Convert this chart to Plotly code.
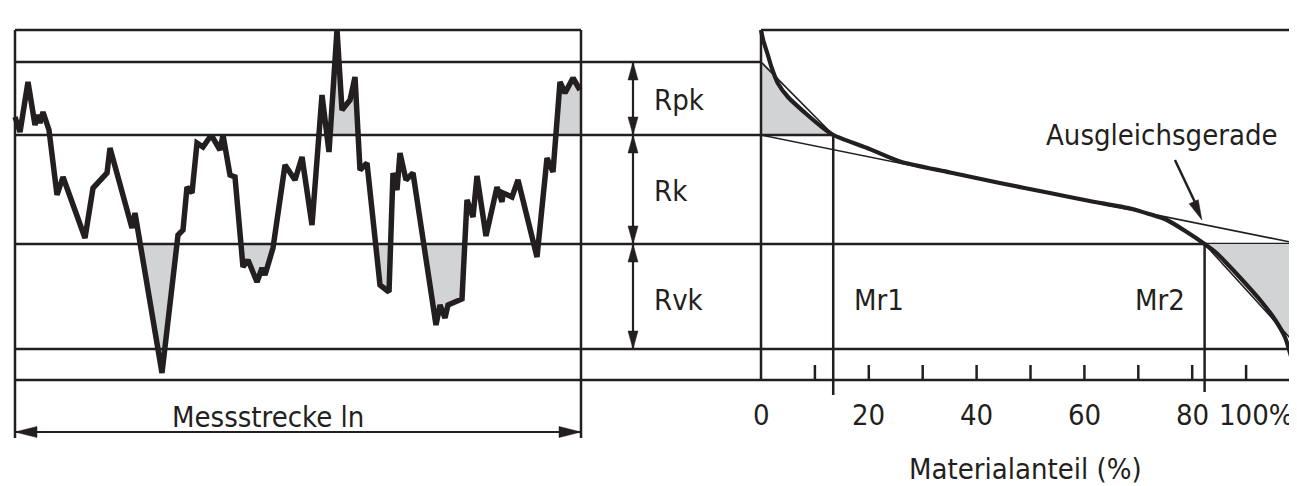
import numpy as np
import plotly.graph_objects as go

# ---------------- data ----------------
# surface profile (position along Messstrecke, height in µm)
profile_pos = [0, 5, 13, 20, 23, 25, 28, 34, 42, 48, 70, 78, 92, 95, 117, 120, 147, 163, 168, 172,
               177, 182, 188, 195, 198, 205, 208, 215, 220, 228, 233, 242, 247, 250, 258, 270, 280, 287, 297, 307,
               314, 322, 327, 335, 340, 345, 352, 365, 374, 378, 382, 385, 391, 398, 421, 425, 430, 433, 447, 452,
               458, 462, 471, 482, 487, 488, 497, 503, 522, 532, 538, 545, 550, 558, 565]
profile_h = [26.3, 24.8, 29.8, 25.5, 26.5, 25.7, 26.8, 25.0, 18.5, 20.3, 14.2, 19.2, 20.7, 23.2, 15.2, 16.7, 0.7, 14.5, 15.0, 19.3,
             18.7, 23.7, 23.3, 24.3, 24.2, 23.0, 24.5, 20.5, 20.3, 11.3, 12.0, 9.8, 11.2, 10.5, 13.2, 21.5, 20.0, 22.3, 15.5, 28.5,
             22.8, 35.0, 27.0, 28.0, 30.3, 21.0, 21.7, 9.5, 8.8, 20.7, 19.0, 22.7, 20.0, 20.7, 5.5, 7.5, 6.2, 7.5, 8.1, 18.0,
             16.3, 20.4, 14.4, 19.3, 17.8, 18.7, 18.3, 20.0, 12.3, 22.2, 20.8, 29.8, 28.7, 30.2, 29.0]
profile_length = 566

# Abbott-Firestone (material ratio) curve
curve_m = [0, 0.4, 1.1, 2.0, 3.1, 5.0, 8.2, 11.3, 13.4, 19.7, 25.8, 35.1, 44.3, 53.6, 61.0, 68.5, 72.0, 75.3, 79.0,
           82.3, 84.5, 86.7, 89.8, 92.9, 95.4, 97.2, 98.2, 98.9, 99.3]
curve_h = [35.0, 34.0, 32.8, 31.2, 29.7, 28.3, 26.7, 25.3, 24.5, 23.2, 21.85, 20.75, 19.7, 18.7, 17.9, 17.15, 16.6, 16.0, 14.8,
           13.6, 12.7, 11.5, 9.7, 7.8, 6.0, 4.3, 2.6, 1.2, 0.0]

# levels
top_h = 35.0
rpk_h = 31.8
ausgleich_m = [0, 100]
ausgleich_h = [24.5, 13.6]
rvk_h = 3.1
base_h = 0.0
rk_top = ausgleich_h[0]
rk_bot = ausgleich_h[1]

# shaded regions of the profile
peak_ranges = [(314, 346), (538, 565)]
valley_ranges = [(120, 163), (220, 270), (352, 378), (398, 452)]

tick_minor = [10, 20, 30, 40, 50, 60, 70, 80, 90]
tick_labels_v = [0, 20, 40, 60, 80]

# ---------------- derived ----------------
cm = np.array(curve_m)
ch = np.array(curve_h)
mr1 = float(np.interp(rk_top, ch[::-1], cm[::-1]))
mr2 = float(np.interp(rk_bot, ch[::-1], cm[::-1]))

# layout geometry (page pixels); the page body has an 8px margin
W, H = 1297, 486
OFF = 8
PX_X = 1.0      # px per profile unit
PX_M = 5.39     # px per percent
PX_H = 10.0     # px per µm
LEFT0 = 15      # page x of profile start
RIGHT0 = 761    # page x of 0 %
BASE_Y = 380    # page y of height 0
GAP_END = RIGHT0 - LEFT0
FULL_END = W - LEFT0

INK = '#231f20'
GRAY = '#d1d3d4'
FONT = dict(family='Liberation Sans Narrow, DejaVu Sans Condensed, Arial Narrow, sans-serif', size=29, color=INK)

fig = go.Figure()


def add_poly(xs, ys, axis='x'):
    fig.add_trace(go.Scatter(x=xs, y=ys, xaxis=axis, yaxis='y', mode='lines', fill='toself',
                             fillcolor=GRAY, line=dict(width=0, color=GRAY), hoverinfo='skip'))


def add_lines(segs, width, axis='x'):
    xs, ys = [], []
    for (x0, y0, x1, y1) in segs:
        xs += [x0, x1, None]
        ys += [y0, y1, None]
    fig.add_trace(go.Scatter(x=xs, y=ys, xaxis=axis, yaxis='y', mode='lines',
                             line=dict(color=INK, width=width), hoverinfo='skip'))


def heads(specs, axis='x', kx=PX_X):
    # specs: (tip_x, tip_y, dir_px_x, dir_px_y, length_px, width_px)
    for (tx, ty, dx, dy, L, Wd) in specs:
        n = np.hypot(dx, dy)
        ux, uy = dx / n, dy / n
        bx, by = -ux * L, -uy * L
        px_, py_ = -uy * Wd / 2, ux * Wd / 2
        xs = [tx, tx + (bx + px_) / kx, tx + (bx - px_) / kx, tx]
        ys = [ty, ty + (by + py_) / PX_H, ty + (by - py_) / PX_H, ty]
        fig.add_trace(go.Scatter(x=xs, y=ys, xaxis=axis, yaxis='y', mode='lines', fill='toself',
                                 fillcolor=INK, line=dict(width=0.5, color=INK), hoverinfo='skip'))


# ---- shaded areas of profile ----
pp = np.array(profile_pos, dtype=float)
ph = np.array(profile_h, dtype=float)
for (a, b) in peak_ranges:
    g = np.unique(np.concatenate([np.linspace(a, b, 500), pp[(pp > a) & (pp < b)]]))
    hv = np.maximum(np.interp(g, pp, ph), rk_top)
    add_poly(list(g) + [b, a], list(hv) + [rk_top, rk_top])
for (a, b) in valley_ranges:
    g = np.unique(np.concatenate([np.linspace(a, b, 500), pp[(pp > a) & (pp < b)]]))
    hv = np.minimum(np.interp(g, pp, ph), rk_bot)
    add_poly(list(g) + [b, a], list(hv) + [rk_bot, rk_bot])

# ---- shaded areas of bearing curve ----
g = np.unique(np.concatenate([np.linspace(0, mr1, 500), cm[(cm > 0) & (cm < mr1)]]))
hyp1 = rpk_h + (rk_top - rpk_h) * g / mr1
up = np.minimum(np.interp(g, cm, ch), hyp1)
add_poly(list(g) + [mr1, 0], list(up) + [rk_top, rk_top], axis='x2')

g = np.unique(np.concatenate([np.linspace(mr2, 100, 500), cm[(cm > mr2) & (cm < 100)]]))
hyp2 = rk_bot + (rvk_h - rk_bot) * (g - mr2) / (100 - mr2)
lo = np.maximum(np.interp(g, cm, ch), hyp2)
add_poly(list(g) + [100, mr2], list(lo) + [rk_bot, rk_bot], axis='x2')

# ---- frame lines (profile units) ----
add_lines([
    (0, top_h, profile_length, top_h),
    (0, -5.8, 0, top_h),
    (profile_length, -5.8, profile_length, top_h),
    (0, rpk_h, GAP_END, rpk_h),
    (0, rk_top, GAP_END, rk_top),
    (0, rk_bot, FULL_END, rk_bot),
    (0, rvk_h, FULL_END, rvk_h),
    (0, base_h, FULL_END, base_h),
], 2.5)

# ---- right panel lines ----
add_lines([
    (0, top_h, 100, top_h),
    (0, base_h, 0, top_h),
    (0, rk_top, mr1, rk_top),
    (mr1, -1.5, mr1, rk_top),
    (mr2, -1.2, mr2, rk_bot),
] + [(t, base_h, t, base_h + 1.5) for t in tick_minor], 2.5, axis='x2')

# thin lines: Ausgleichsgerade and equivalent triangles
add_lines([
    (ausgleich_m[0], ausgleich_h[0], ausgleich_m[1], ausgleich_h[1]),
    (0, rpk_h, mr1, rk_top),
    (mr2, rk_bot, 100, rvk_h),
], 1.6, axis='x2')

# bearing curve
fig.add_trace(go.Scatter(x=curve_m, y=curve_h, xaxis='x2', yaxis='y', mode='lines',
                         line=dict(color=INK, width=4.2, shape='spline', smoothing=0.7), hoverinfo='skip'))

# profile
fig.add_trace(go.Scatter(x=profile_pos, y=profile_h, xaxis='x', yaxis='y', mode='lines',
                         line=dict(color=INK, width=5.5), hoverinfo='skip'))

# ---- dimension arrows ----
ARX = 618
DIM_Y = -5.2
add_lines([
    (ARX, rpk_h, ARX, rvk_h),
    (0, DIM_Y, profile_length, DIM_Y),
], 2.2)
hd = []
for (hi, lo_) in [(rpk_h, rk_top), (rk_top, rk_bot), (rk_bot, rvk_h)]:
    hd.append((ARX, hi, 0, 1, 18, 10))
    hd.append((ARX, lo_, 0, -1, 18, 10))
hd.append((0, DIM_Y, -1, 0, 22, 11))
hd.append((profile_length, DIM_Y, 1, 0, 22, 11))
heads(hd)

# pointer to the Ausgleichsgerade
ptr = (76.8, 22.0, 81.8, 16.0)
add_lines([(ptr[0], ptr[1], ptr[2] - 0.6, ptr[3] + 1.0)], 2.5, axis='x2')
heads([(ptr[2], ptr[3], (ptr[2] - ptr[0]) * PX_M, (ptr[3] - ptr[1]) * PX_H, 20, 10)], axis='x2', kx=PX_M)

# ---- text ----
ann = []


def txt(x, y, s, axis='x', xanchor='center', xshift=0):
    ann.append(dict(x=x, y=y, xref=axis, yref='y', text=s, showarrow=False, font=FONT,
                    xanchor=xanchor, yanchor='middle', xshift=xshift))


txt(637, 28.05, 'Rpk', xanchor='left')
txt(637, 18.9, 'Rk', xanchor='left')
txt(637, 8.05, 'Rvk', xanchor='left')
txt(253, -3.65, 'Messstrecke ln')
txt(mr1, 8.05, 'Mr1', axis='x2', xanchor='left', xshift=19)
txt(mr2, 8.05, 'Mr2', axis='x2', xanchor='right', xshift=-18)
txt(74.4, 24.55, 'Ausgleichsgerade', axis='x2')
for v in tick_labels_v:
    txt(v, -3.45, str(v), axis='x2')
# the 100 % label sits left of the (off-page) 100 % mark
txt(99.4, -3.45, '100%', axis='x2', xanchor='right', xshift=-1)
txt(49.0, -8.85, 'Materialanteil (%)', axis='x2')

fig.update_layout(
    width=W - OFF, height=H - OFF, margin=dict(l=0, r=0, t=0, b=0),
    paper_bgcolor='white', plot_bgcolor='white', showlegend=False,
    xaxis=dict(range=[(OFF - LEFT0) / PX_X, (W - LEFT0) / PX_X], visible=False, fixedrange=True, domain=[0, 1]),
    xaxis2=dict(range=[(OFF - RIGHT0) / PX_M, (W - RIGHT0) / PX_M], visible=False, fixedrange=True,
                overlaying='x', anchor='y', domain=[0, 1]),
    yaxis=dict(range=[(BASE_Y - H) / PX_H, (BASE_Y - OFF) / PX_H], visible=False, fixedrange=True, domain=[0, 1]),
    annotations=ann,
)

fig.write_html('out.html')
